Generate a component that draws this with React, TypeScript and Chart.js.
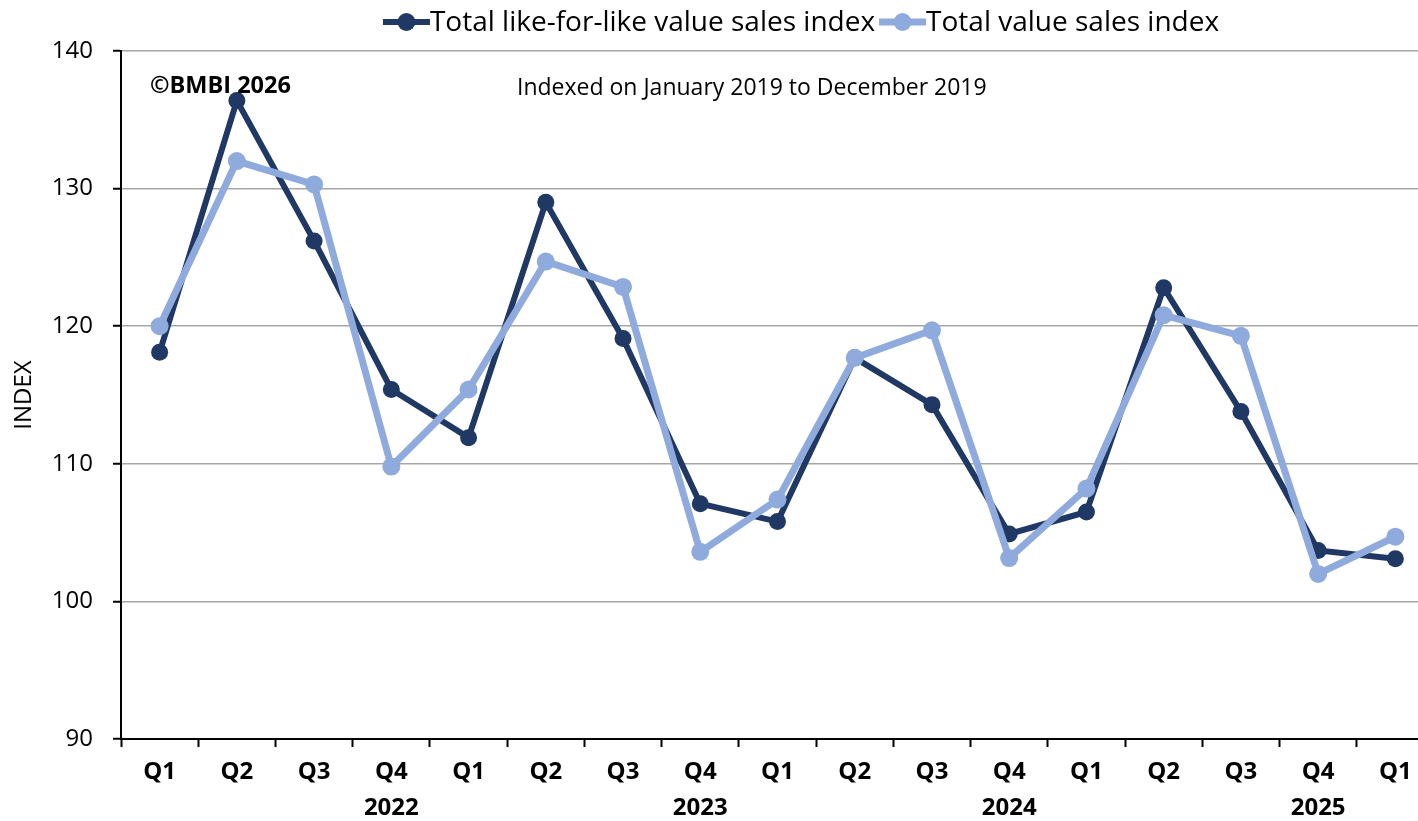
import React, { useEffect, useRef } from "react";
import { Chart, registerables } from "chart.js";

Chart.register(...registerables);

const quarters: (string | string[])[] = [
  "Q1", "Q2", "Q3", ["Q4", "2022"],
  "Q1", "Q2", "Q3", ["Q4", "2023"],
  "Q1", "Q2", "Q3", ["Q4", "2024"],
  "Q1", "Q2", "Q3", ["Q4", "2025"],
  "Q1",
];

const likeForLike: number[] = [
  118.1, 136.4, 126.2, 115.4,
  111.9, 129.0, 119.1, 107.1,
  105.8, 117.7, 114.3, 104.9,
  106.5, 122.8, 113.8, 103.7,
  103.1,
];

const totalValue: number[] = [
  120.0, 132.0, 130.3, 109.8,
  115.4, 124.7, 122.85, 103.6,
  107.4, 117.7, 119.7, 103.15,
  108.2, 120.8, 119.3, 102.0,
  104.7,
];

const seriesNames = ["Total like-for-like value sales index", "Total value sales index"];
const darkColor = "#203864";
const lightColor = "#8FAADC";
const FONT = "'Open Sans', sans-serif";

const overlayPlugin = {
  id: "overlay",
  afterDraw(chart: any) {
    const ctx = chart.ctx as CanvasRenderingContext2D;
    const area = chart.chartArea;
    ctx.save();
    // legend
    ctx.font = `28px ${FONT}`;
    ctx.textBaseline = "middle";
    ctx.textAlign = "left";
    const markerW = 47;
    const colors = [darkColor, lightColor];
    const widths = seriesNames.map((n) => ctx.measureText(n).width);
    const gap = 4;
    const total = widths.reduce((a, b) => a + b, 0) + markerW * 2 + gap;
    let x = 801 - total / 2;
    const ly = 22;
    seriesNames.forEach((name, i) => {
      ctx.strokeStyle = colors[i];
      ctx.lineWidth = i === 0 ? 6 : 7;
      ctx.beginPath();
      ctx.moveTo(x, ly);
      ctx.lineTo(x + markerW, ly);
      ctx.stroke();
      ctx.fillStyle = colors[i];
      ctx.beginPath();
      ctx.arc(x + markerW / 2, ly, 9, 0, Math.PI * 2);
      ctx.fill();
      ctx.fillStyle = "#000";
      ctx.fillText(name, x + markerW, ly + 1);
      x += markerW + widths[i] + gap;
    });
    // annotations
    ctx.fillStyle = "#000";
    ctx.font = `bold 23.5px ${FONT}`;
    ctx.fillText("©BMBI 2026", area.left + 29, 86);
    ctx.font = `23px ${FONT}`;
    ctx.fillText("Indexed on January 2019 to December 2019", 517, 88);
    ctx.restore();
  },
};

export default function App() {
  const ref = useRef<HTMLCanvasElement | null>(null);
  useEffect(() => {
    if (!ref.current) return;
    const chart = new Chart(ref.current, {
      type: "line",
      data: {
        labels: quarters,
        datasets: [
          {
            label: seriesNames[0],
            data: likeForLike,
            borderColor: darkColor,
            backgroundColor: darkColor,
            borderWidth: 6,
            pointRadius: 8.5,
            pointBorderWidth: 0,
            pointBackgroundColor: darkColor,
            tension: 0,
            order: 2,
          },
          {
            label: seriesNames[1],
            data: totalValue,
            borderColor: lightColor,
            backgroundColor: lightColor,
            borderWidth: 7,
            pointRadius: 9,
            pointBorderWidth: 0,
            pointBackgroundColor: lightColor,
            tension: 0,
            order: 1,
          },
        ],
      },
      options: {
        responsive: false,
        animation: false,
        devicePixelRatio: 1,
        layout: { padding: { top: 51, right: 16, left: 0, bottom: 0 } },
        plugins: {
          legend: { display: false },
          tooltip: { enabled: false },
          title: { display: false },
        },
        scales: {
          x: {
            offset: true,
            grid: {
              display: true,
              drawOnChartArea: false,
              drawTicks: true,
              tickLength: 8,
              tickColor: "#000",
              tickWidth: 2,
              offset: true,
            },
            border: { display: true, color: "#000", width: 2 },
            ticks: {
              color: "#000",
              font: { family: FONT, size: 24, weight: "bold", lineHeight: 1.5 },
              padding: 7,
              maxRotation: 0,
              autoSkip: false,
            },
            afterFit(scale: any) {
              scale.height = 82;
            },
          },
          y: {
            min: 90,
            max: 140,
            ticks: {
              stepSize: 10,
              color: "#000",
              font: { family: FONT, size: 24 },
              padding: 20,
            },
            grid: {
              color: "#A6A6A6",
              lineWidth: 1.5,
              tickColor: "#000",
              tickLength: 8,
              tickWidth: 2,
            },
            border: { display: true, color: "#000", width: 2 },
            title: {
              display: true,
              text: "INDEX",
              color: "#000",
              font: { family: FONT, size: 24, lineHeight: 1.2 },
              padding: { top: 10, bottom: 0 },
            },
            afterFit(scale: any) {
              scale.width = 121;
            },
          },
        },
      },
      plugins: [overlayPlugin],
    });
    return () => chart.destroy();
  }, []);
  return (
    <div style={{ position: "absolute", left: 0, top: 0, width: 1418, height: 821, overflow: "hidden", background: "#fff" }}>
      <canvas ref={ref} width={1450} height={821} style={{ width: 1450, height: 821, display: "block" }} />
    </div>
  );
}
